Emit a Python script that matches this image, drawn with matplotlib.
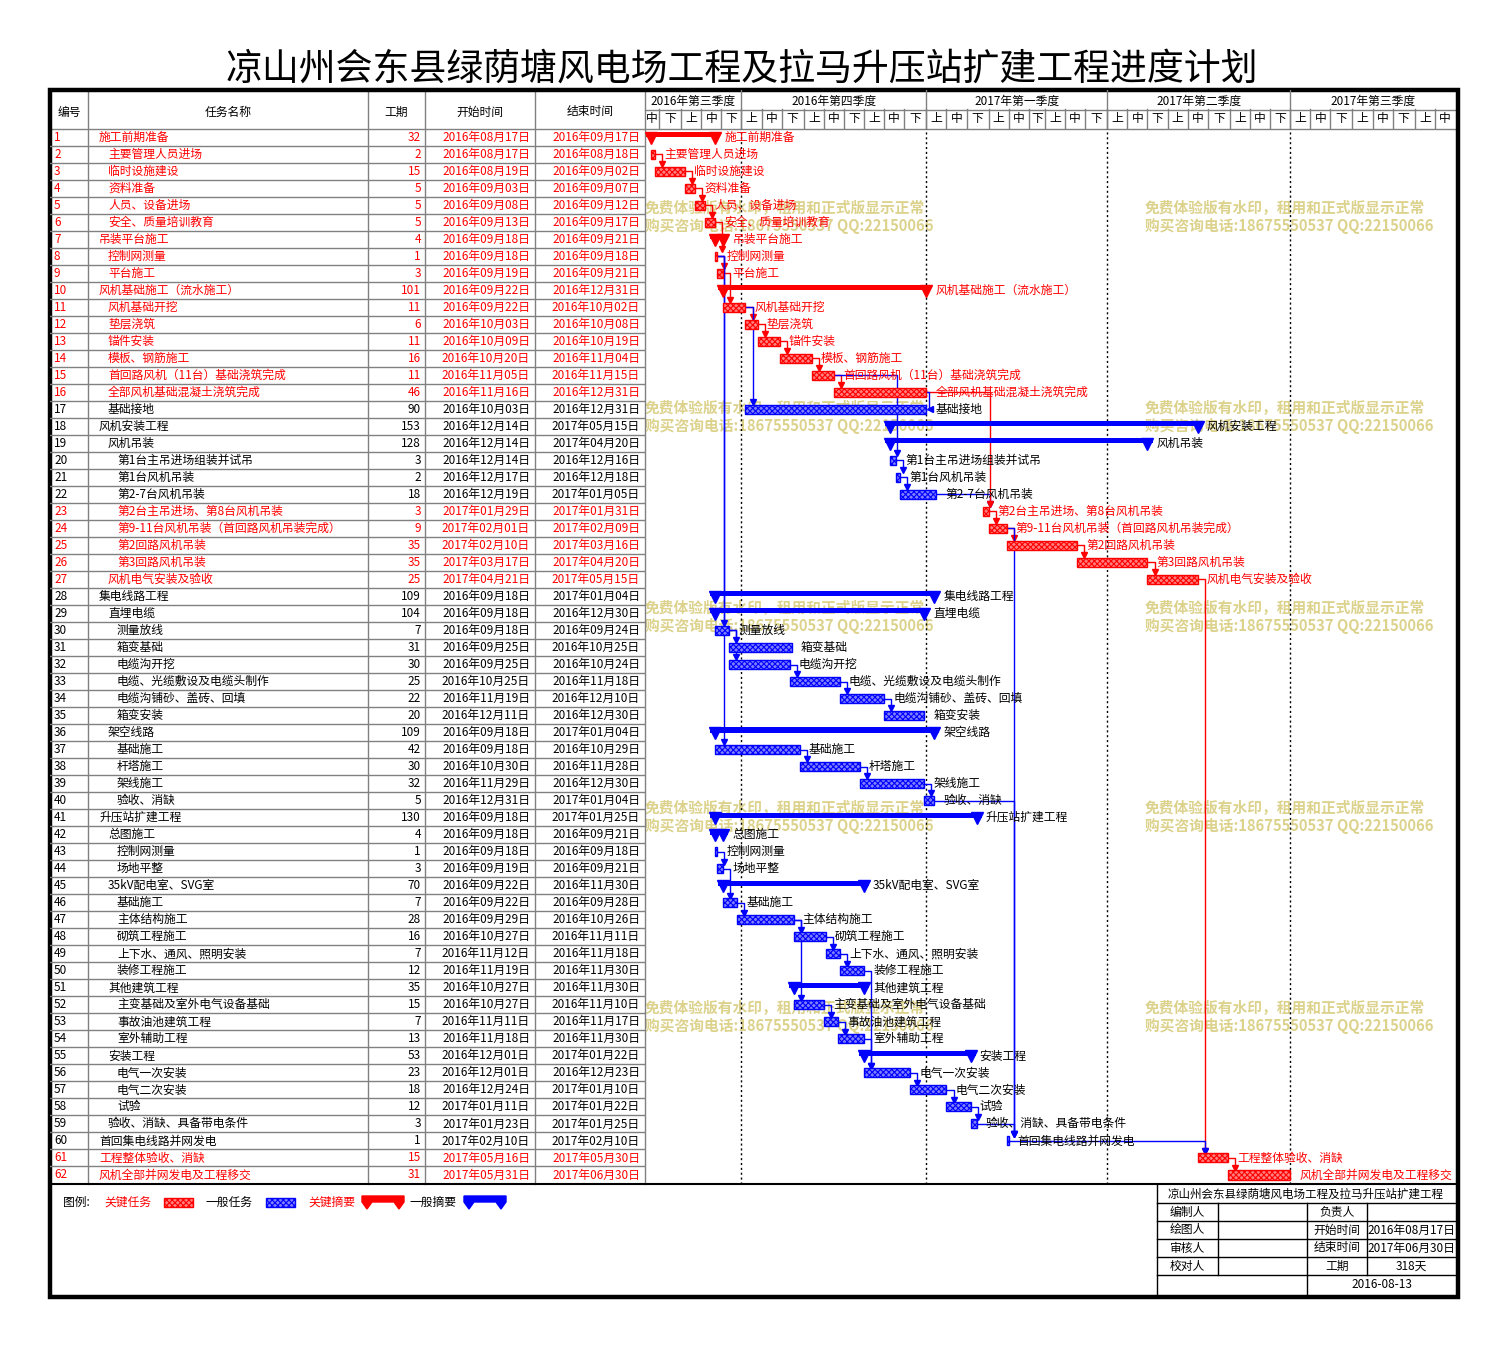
import matplotlib
matplotlib.use('Agg')
import matplotlib.pyplot as plt
import matplotlib.dates as mdates
from matplotlib.patches import Rectangle, Polygon
import pandas as pd

plt.rcParams['font.family'] = ['Noto Sans CJK SC', 'DejaVu Sans']
plt.rcParams['hatch.linewidth'] = 0.8

title = "凉山州会东县绿荫塘风电场工程及拉马升压站扩建工程进度计划"

names = [
    "施工前期准备", "主要管理人员进场", "临时设施建设", "资料准备", "人员、设备进场",
    "安全、质量培训教育", "吊装平台施工", "控制网测量", "平台施工", "风机基础施工（流水施工）",
    "风机基础开挖", "垫层浇筑", "锚件安装", "模板、钢筋施工", "首回路风机（11台）基础浇筑完成",
    "全部风机基础混凝土浇筑完成", "基础接地", "风机安装工程", "风机吊装", "第1台主吊进场组装并试吊",
    "第1台风机吊装", "第2-7台风机吊装", "第2台主吊进场、第8台风机吊装",
    "第9-11台风机吊装（首回路风机吊装完成）", "第2回路风机吊装", "第3回路风机吊装",
    "风机电气安装及验收", "集电线路工程", "直埋电缆", "测量放线", "箱变基础", "电缆沟开挖",
    "电缆、光缆敷设及电缆头制作", "电缆沟铺砂、盖砖、回填", "箱变安装", "架空线路", "基础施工",
    "杆塔施工", "架线施工", "验收、消缺", "升压站扩建工程", "总图施工", "控制网测量", "场地平整",
    "35kV配电室、SVG室", "基础施工", "主体结构施工", "砌筑工程施工", "上下水、通风、照明安装",
    "装修工程施工", "其他建筑工程", "主变基础及室外电气设备基础", "事故油池建筑工程", "室外辅助工程",
    "安装工程", "电气一次安装", "电气二次安装", "试验", "验收、消缺、具备带电条件",
    "首回集电线路并网发电", "工程整体验收、消缺", "风机全部并网发电及工程移交",
]

levels = [1, 2, 2, 2, 2, 2, 1, 2, 2, 1, 2, 2, 2, 2, 2, 2, 2, 1, 2, 3, 3, 3, 3, 3, 3, 3, 2,
          1, 2, 3, 3, 3, 3, 3, 3, 2, 3, 3, 3, 3, 1, 2, 3, 3, 2, 3, 3, 3, 3, 3, 2, 3, 3, 3,
          2, 3, 3, 3, 2, 1, 1, 1]

durations = [32, 2, 15, 5, 5, 5, 4, 1, 3, 101, 11, 6, 11, 16, 11, 46, 90, 153, 128, 3, 2, 18,
             3, 9, 35, 35, 25, 109, 104, 7, 31, 30, 25, 22, 20, 109, 42, 30, 32, 5, 130, 4, 1,
             3, 70, 7, 28, 16, 7, 12, 35, 15, 7, 13, 53, 23, 18, 12, 3, 1, 15, 31]

starts = [
    "2016-08-17", "2016-08-17", "2016-08-19", "2016-09-03", "2016-09-08", "2016-09-13",
    "2016-09-18", "2016-09-18", "2016-09-19", "2016-09-22", "2016-09-22", "2016-10-03",
    "2016-10-09", "2016-10-20", "2016-11-05", "2016-11-16", "2016-10-03", "2016-12-14",
    "2016-12-14", "2016-12-14", "2016-12-17", "2016-12-19", "2017-01-29", "2017-02-01",
    "2017-02-10", "2017-03-17", "2017-04-21", "2016-09-18", "2016-09-18", "2016-09-18",
    "2016-09-25", "2016-09-25", "2016-10-25", "2016-11-19", "2016-12-11", "2016-09-18",
    "2016-09-18", "2016-10-30", "2016-11-29", "2016-12-31", "2016-09-18", "2016-09-18",
    "2016-09-18", "2016-09-19", "2016-09-22", "2016-09-22", "2016-09-29", "2016-10-27",
    "2016-11-12", "2016-11-19", "2016-10-27", "2016-10-27", "2016-11-11", "2016-11-18",
    "2016-12-01", "2016-12-01", "2016-12-24", "2017-01-11", "2017-01-23", "2017-02-10",
    "2017-05-16", "2017-05-31",
]

ends = [
    "2016-09-17", "2016-08-18", "2016-09-02", "2016-09-07", "2016-09-12", "2016-09-17",
    "2016-09-21", "2016-09-18", "2016-09-21", "2016-12-31", "2016-10-02", "2016-10-08",
    "2016-10-19", "2016-11-04", "2016-11-15", "2016-12-31", "2016-12-31", "2017-05-15",
    "2017-04-20", "2016-12-16", "2016-12-18", "2017-01-05", "2017-01-31", "2017-02-09",
    "2017-03-16", "2017-04-20", "2017-05-15", "2017-01-04", "2016-12-30", "2016-09-24",
    "2016-10-25", "2016-10-24", "2016-11-18", "2016-12-10", "2016-12-30", "2017-01-04",
    "2016-10-29", "2016-11-28", "2016-12-30", "2017-01-04", "2017-01-25", "2016-09-21",
    "2016-09-18", "2016-09-21", "2016-11-30", "2016-09-28", "2016-10-26", "2016-11-11",
    "2016-11-18", "2016-11-30", "2016-11-30", "2016-11-10", "2016-11-17", "2016-11-30",
    "2017-01-22", "2016-12-23", "2017-01-10", "2017-01-22", "2017-01-25", "2017-02-10",
    "2017-05-30", "2017-06-30",
]

critical = list(range(1, 17)) + [23, 24, 25, 26, 27, 61, 62]
summaries = [1, 7, 10, 18, 19, 28, 29, 36, 41, 42, 45, 51, 55]

links = [(2, 3), (3, 4), (4, 5), (5, 6), (6, 8), (8, 9), (9, 11), (11, 12), (12, 13),
         (13, 14), (14, 15), (15, 16), (11, 17), (15, 20), (20, 21), (21, 22), (22, 23),
         (16, 23), (23, 24), (24, 25), (25, 26), (26, 27), (27, 61), (61, 62), (24, 60),
         (60, 61), (8, 30), (30, 31), (30, 32), (32, 33), (33, 34), (34, 35), (8, 37),
         (37, 38), (38, 39), (39, 40), (40, 60), (43, 44), (44, 46), (46, 47), (47, 48),
         (48, 49), (49, 50), (47, 52), (52, 53), (53, 54), (50, 56), (54, 56), (56, 57),
         (57, 58), (58, 59), (59, 60)]
ff_links = [(16, 17)]

watermark = ["免费体验版有水印，租用和正式版显示正常", "购买咨询电话:18675550537 QQ:22150066"]

info_title = "凉山州会东县绿荫塘风电场工程及拉马升压站扩建工程"
info_start = "2016年08月17日"
info_end = "2017年06月30日"
info_total = "318天"
info_date = "2016-08-13"

view_start = "2016-08-14"
view_end = "2017-09-21"

# ---------------------------------------------------------------
W, H = 1506, 1345
RED, BLUE, GRAY = '#FF0000', '#0000FF', '#808080'
RED_FILL, BLUE_FILL = '#FF8080', '#8080FF'
HATCH = 'xxxxxx'
FS = 8.5
n = len(names)

s = mdates.date2num(pd.to_datetime(starts))
e = mdates.date2num(pd.to_datetime(ends)) + 1
xmin = mdates.date2num(pd.Timestamp(view_start))
xmax = mdates.date2num(pd.Timestamp(view_end))


def frac(x0, y0, x1, y1):
    return [x0 / W, 1 - y1 / H, (x1 - x0) / W, (y1 - y0) / H]


def fmt_cn(d):
    t = pd.Timestamp(d)
    return f"{t.year}年{t.month:02d}月{t.day:02d}日"


fig = plt.figure(figsize=(W / 100, H / 100), dpi=100)
fig.patch.set_facecolor('white')

bg = fig.add_axes([0, 0, 1, 1])
bg.set_xlim(0, W)
bg.set_ylim(H, 0)
bg.axis('off')

bg.text(742, 69, title, ha='center', va='center', fontsize=26.6)

# watermark
for wy in [208, 408, 608, 808, 1008]:
    for wx in [645, 1145]:
        bg.text(wx, wy, watermark[0], color='#DCD28C', fontsize=10.6, fontweight='bold',
                va='center', zorder=0)
        bg.text(wx, wy + 18, watermark[1], color='#DCD28C', fontsize=10.6, fontweight='bold',
                va='center', zorder=0)

# table frame lines
for x in [88, 368, 425, 535, 645]:
    bg.plot([x, x], [90, 1184], color=GRAY, lw=1)
bg.plot([50, 1458], [128.5, 128.5], color=GRAY, lw=1)
bg.plot([645, 1456], [110, 110], color=GRAY, lw=1)
bg.plot([50, 1458], [1184, 1184], color='black', lw=1.5)
for txt, x in [("编号", 69), ("任务名称", 228), ("工期", 396), ("开始时间", 480), ("结束时间", 590)]:
    bg.text(x, 112, txt, ha='center', va='center', fontsize=FS)

# legend
bg.text(63, 1202, "图例:", va='center', fontsize=FS)
bg.text(104, 1202, "关键任务", va='center', fontsize=FS, color=RED)
bg.add_patch(Rectangle((164, 1198), 29, 9, facecolor=RED_FILL, edgecolor=RED, hatch=HATCH, lw=1))
bg.text(206, 1202, "一般任务", va='center', fontsize=FS)
bg.add_patch(Rectangle((266, 1198), 29, 9, facecolor=BLUE_FILL, edgecolor=BLUE, hatch=HATCH, lw=1))
bg.text(308, 1202, "关键摘要", va='center', fontsize=FS, color=RED)
bg.text(410, 1202, "一般摘要", va='center', fontsize=FS)
for x0, c in [(362, RED), (464, BLUE)]:
    bg.add_patch(Polygon([(x0, 1196), (x0 + 42, 1196), (x0 + 42, 1202), (x0 + 37, 1209),
                          (x0 + 32, 1202), (x0 + 10, 1202), (x0 + 5, 1209), (x0, 1202)],
                         closed=True, color=c))

# info block
for y in [1203, 1221, 1239, 1257, 1275]:
    bg.plot([1157, 1456], [y, y], color='black', lw=1)
bg.plot([1157, 1157], [1184, 1297], color='black', lw=1)
bg.plot([1218, 1218], [1203, 1275], color='black', lw=1)
bg.plot([1307, 1307], [1203, 1297], color='black', lw=1)
bg.plot([1367, 1367], [1203, 1275], color='black', lw=1)
bg.text(1306, 1194, info_title, ha='center', va='center', fontsize=8.3)
cells = [("编制人", 1187, 1212), ("负责人", 1337, 1212), ("绘图人", 1187, 1230),
         ("开始时间", 1337, 1230), (info_start, 1411, 1230), ("审核人", 1187, 1248),
         ("结束时间", 1337, 1248), (info_end, 1411, 1248), ("校对人", 1187, 1266),
         ("工期", 1337, 1266), (info_total, 1411, 1266), (info_date, 1382, 1284)]
for txt, x, y in cells:
    bg.text(x, y, txt, ha='center', va='center', fontsize=FS)

# outer border
bg.add_patch(Rectangle((50, 90), 1408, 1207, fill=False, edgecolor='black', lw=3.2, zorder=5))

# ---------------------------------------------------------------
# table body
tx = fig.add_axes(frac(50, 128.5, 645, 1183.5))
tx.set_xlim(50, 645)
tx.set_ylim(n + 0.5, 0.5)
tx.axis('off')
for i in range(1, n):
    tx.axhline(i + 0.5, color=GRAY, lw=1)
for i in range(n):
    r = i + 1
    c = RED if r in critical else 'black'
    tx.text(54, r, str(r), va='center', color=c, fontsize=FS)
    tx.text(90 + 9 * levels[i], r, names[i], va='center', color=c, fontsize=FS)
    tx.text(421, r, str(durations[i]), va='center', ha='right', color=c, fontsize=FS)
    tx.text(530, r, fmt_cn(starts[i]), va='center', ha='right', color=c, fontsize=FS)
    tx.text(640, r, fmt_cn(ends[i]), va='center', ha='right', color=c, fontsize=FS)

# ---------------------------------------------------------------
# timescale header
hx = fig.add_axes(frac(645, 90, 1455, 128.5))
hx.set_xlim(xmin, xmax)
hx.set_ylim(2, 0)
hx.axis('off')
months = pd.date_range("2016-07-01", "2017-09-01", freq='MS')
for m in months:
    bounds = [m, m + pd.Timedelta(days=10), m + pd.Timedelta(days=20), m + pd.offsets.MonthBegin(1)]
    b = mdates.date2num(pd.DatetimeIndex(bounds))
    for k, lab in enumerate(["上", "中", "下"]):
        a0, a1 = max(b[k], xmin), min(b[k + 1], xmax)
        if a1 - a0 < 3:
            continue
        hx.text((a0 + a1) / 2, 1.5, lab, ha='center', va='center', fontsize=FS)
        if xmin < b[k + 1] < xmax:
            hx.plot([b[k + 1]] * 2, [1, 2], color=GRAY, lw=1)
quarters = pd.date_range("2016-07-01", "2017-10-01", freq='QS')
cn = {1: "一", 2: "二", 3: "三", 4: "四"}
for q0, q1 in zip(quarters[:-1], quarters[1:]):
    a0 = max(mdates.date2num(q0), xmin)
    a1 = min(mdates.date2num(q1), xmax)
    hx.text((a0 + a1) / 2, 0.58, f"{q0.year}年第{cn[q0.quarter]}季度", ha='center', va='center',
            fontsize=FS)
    if xmin < mdates.date2num(q1) < xmax:
        hx.plot([mdates.date2num(q1)] * 2, [0, 2], color=GRAY, lw=1)

# ---------------------------------------------------------------
# gantt body
gx = fig.add_axes(frac(645, 128.5, 1455, 1183.5))
gx.set_xlim(xmin, xmax)
gx.set_ylim(n + 0.5, 0.5)
gx.axis('off')

for q in quarters[1:-1]:
    gx.axvline(mdates.date2num(q), color='black', ls=(0, (1.5, 2)), lw=1, zorder=1)

for a, b in links:
    c = RED if (a in critical and b in critical) else BLUE
    x0 = e[a - 1]
    xa = max(x0, s[b - 1]) + 3.5
    gx.plot([x0, xa, xa], [a, a, b - 0.42], color=c, lw=1, zorder=2)
    gx.plot(xa, b - 0.42, marker='v', ms=5, color=c, zorder=2)

for a, b in ff_links:
    c = RED if (a in critical and b in critical) else BLUE
    xf = e[a - 1] + 1.5
    gx.plot([e[a - 1], xf, xf, e[b - 1] + 1.5], [a, a, b, b], color=c, lw=1, zorder=2)
    gx.plot(e[b - 1] + 1.7, b, marker='<', ms=5, color=c, zorder=2)

for i in range(n):
    r = i + 1
    c = RED if r in critical else BLUE
    fill = RED_FILL if r in critical else BLUE_FILL
    tc = RED if r in critical else 'black'
    if r in summaries:
        gx.barh(r - 0.15, e[i] - s[i] + 5, left=s[i] - 2.5, height=0.3, color=c, zorder=3)
        gx.plot([s[i], e[i]], [r + 0.03, r + 0.03], ls='none', marker='v', ms=8, color=c,
                zorder=3)
    else:
        gx.barh(r, e[i] - s[i], left=s[i], height=0.53, facecolor=fill, edgecolor=c,
                hatch=HATCH, lw=1, zorder=3)
    gx.text(e[i] + 4.5, r, names[i], va='center', color=tc, fontsize=FS, zorder=4)

fig.savefig("out.png", dpi=100, facecolor='white')
